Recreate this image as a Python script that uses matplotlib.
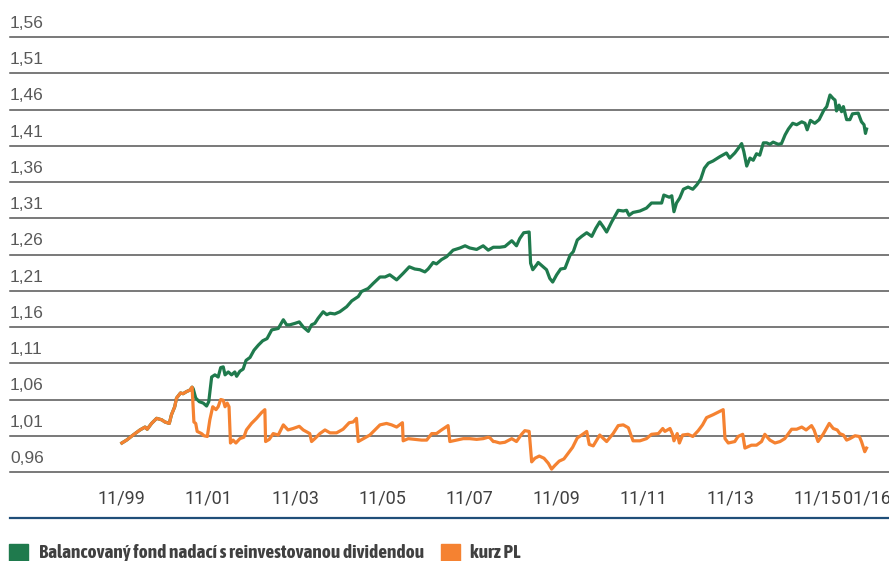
import matplotlib
matplotlib.use("Agg")
import matplotlib.pyplot as plt
from matplotlib import font_manager
from matplotlib.patches import Rectangle
from matplotlib.lines import Line2D

# months since 11/1999
fund_m = [0, 1.3, 3.1, 5.0, 6.4, 7.0, 8.2, 9.6, 11.0, 11.9, 13.1, 13.7, 14.6, 15.1, 16.2, 16.9, 17.9, 18.8, 19.4,
          19.7, 20.4, 21.4, 22.5, 23.4, 24.0, 24.8, 25.7, 26.6, 27.3, 28.0, 28.5, 29.4, 30.3, 31.2, 31.7, 32.6, 33.5,
          34.3, 35.4, 36.5, 37.7, 38.9, 40.1, 41.4, 42.3, 43.2, 44.6, 45.5, 46.4, 47.8, 49.0, 50.1, 51.5, 52.4, 53.3,
          54.2, 55.6, 56.6, 57.5, 58.8, 60.2, 62.1, 63.5, 65.3, 66.2, 68.0, 69.4, 71.3, 72.7, 74.0, 75.9, 77.7, 79.4,
          80.9, 82.3, 83.7, 84.6, 86.0, 86.9, 88.3, 89.7, 91.5, 93.4, 94.8, 96.1, 98.0, 99.8, 101.2, 102.6, 104.4,
          105.8, 107.7, 109.0, 109.9, 111.0, 112.5, 112.9, 113.5, 114.6, 115.0, 116.4, 117.3, 118.2, 119.0, 120.1,
          121.2, 122.4, 123.8, 124.7, 125.8, 127.0, 128.4, 129.8, 130.9, 132.0, 133.0, 133.9, 135.3, 137.1, 138.5,
          139.4, 140.1, 141.2, 143.1, 144.9, 146.3, 147.7, 149.1, 149.7, 151.2, 151.9, 152.5, 153.2, 154.1, 155.1,
          156.4, 157.7, 158.8, 159.9, 160.9, 162.0, 163.3, 165.2, 167.0, 167.9, 169.3, 170.2, 171.2, 171.8, 172.6,
          173.5, 174.4, 175.3, 176.2, 177.2, 178.1, 179.0, 179.9, 181.3, 182.2, 183.2, 184.1, 185.3, 186.4, 187.8,
          188.7, 189.3, 190.2, 191.4, 192.6, 193.9, 194.7, 195.6, 196.5, 197.0, 197.4, 198.1, 198.8, 199.3, 200.2,
          201.1, 201.8, 203.4, 204.3, 205.0, 205.4, 205.7]
fund_v = [1.000, 1.004, 1.011, 1.018, 1.022, 1.019, 1.027, 1.034, 1.032, 1.029, 1.027, 1.039, 1.050, 1.062, 1.069,
          1.068, 1.071, 1.073, 1.077,
          1.075, 1.062, 1.057, 1.055, 1.051, 1.057, 1.091, 1.094, 1.091, 1.104, 1.105, 1.094, 1.098, 1.094, 1.098,
          1.092, 1.099, 1.102, 1.114, 1.118, 1.128, 1.135, 1.141, 1.144, 1.156, 1.157, 1.158, 1.170, 1.163, 1.163,
          1.165, 1.167, 1.160, 1.154, 1.163, 1.165, 1.172, 1.181, 1.177, 1.179, 1.178, 1.181, 1.188, 1.196, 1.202,
          1.209, 1.213, 1.220, 1.229, 1.229, 1.232, 1.225, 1.234, 1.243, 1.240, 1.239, 1.236, 1.240, 1.249, 1.247,
          1.253, 1.257, 1.266, 1.269, 1.272, 1.269, 1.267, 1.272, 1.266, 1.270, 1.270, 1.271, 1.279, 1.272, 1.282,
          1.290, 1.291, 1.248, 1.239, 1.246, 1.249, 1.243, 1.239, 1.227, 1.222, 1.232, 1.240, 1.241, 1.259, 1.264,
          1.280, 1.285, 1.290, 1.285, 1.296, 1.305, 1.298, 1.291, 1.305, 1.321, 1.320, 1.321, 1.314, 1.318, 1.320,
          1.324, 1.331, 1.331, 1.331, 1.342, 1.339, 1.341, 1.319, 1.331, 1.338, 1.350, 1.353, 1.350, 1.356, 1.364,
          1.379, 1.386, 1.389, 1.395, 1.400, 1.393, 1.400, 1.406, 1.413, 1.402, 1.382, 1.393, 1.390, 1.399, 1.397,
          1.414, 1.414, 1.412, 1.415, 1.412, 1.413, 1.425, 1.433, 1.441, 1.439, 1.443, 1.441, 1.432, 1.445, 1.441,
          1.446, 1.459, 1.464, 1.480, 1.475, 1.473, 1.458, 1.466, 1.457, 1.464, 1.446, 1.446, 1.454, 1.455, 1.443,
          1.439, 1.427, 1.433]

pl_m = [0, 1.3, 3.1, 5.0, 6.4, 7.0, 8.2, 9.6, 11.0, 11.9, 13.1, 13.7, 14.6, 15.1, 16.2, 16.9, 17.9, 18.8, 19.4,
        19.9, 20.4, 20.8, 22.0, 22.7, 23.6, 24.3, 25.1, 26.0, 26.6, 27.3, 28.0, 28.5, 29.1, 29.6, 30.0, 30.7, 31.5,
        32.6, 33.7, 34.4, 35.8, 37.2, 38.6, 39.5, 39.7, 40.7, 41.8, 43.2, 44.6, 45.9, 47.3, 49.0, 50.1, 51.9, 52.4,
        53.3, 54.7, 56.1, 57.5, 59.3, 61.1, 62.8, 63.9, 64.8, 65.3, 66.7, 68.5, 69.9, 71.3, 73.1, 74.5, 75.9, 77.5,
        77.7, 79.1, 80.9, 82.8, 84.2, 85.6, 86.9, 88.3, 90.1, 90.6, 92.5, 94.3, 96.1, 98.0, 99.8, 101.2, 101.7,
        102.6, 103.0, 104.4, 105.8, 107.7, 109.0, 110.4, 111.3, 112.5, 113.2, 114.1, 115.3, 116.6, 117.8, 118.7,
        119.6, 120.8, 122.1, 123.3, 124.5, 125.8, 127.0, 128.4, 129.1, 130.2, 132.0, 133.9, 135.7, 137.1, 138.5,
        139.9, 141.2, 143.1, 144.9, 146.3, 148.2, 149.4, 150.0, 151.4, 152.1, 152.5, 153.4, 154.0, 154.9, 156.4,
        157.7, 159.2, 160.4, 161.5, 163.3, 166.1, 166.6, 167.5, 169.3, 170.2, 171.5, 172.1, 173.9, 175.3, 176.7,
        177.6, 179.0, 180.4, 181.8, 183.1, 185.0, 186.4, 187.8, 189.0, 190.5, 191.2, 192.3, 193.7, 195.4, 196.5,
        197.6, 198.3, 199.3, 200.2, 201.1, 202.5, 203.7, 204.3, 205.2, 205.7]
pl_v = [1.000, 1.004, 1.011, 1.018, 1.022, 1.019, 1.027, 1.034, 1.032, 1.029, 1.027, 1.039, 1.050, 1.062, 1.069,
        1.068, 1.071, 1.073, 1.077,
        1.029, 1.027, 1.016, 1.013, 1.010, 1.009, 1.032, 1.050, 1.046, 1.050, 1.060, 1.059, 1.050, 1.055, 1.050,
        1.000, 1.004, 1.000, 1.006, 1.008, 1.018, 1.027, 1.034, 1.042, 1.046, 1.002, 1.005, 1.013, 1.011, 1.025,
        1.018, 1.020, 1.023, 1.018, 1.013, 1.002, 1.006, 1.013, 1.018, 1.014, 1.014, 1.019, 1.028, 1.029, 1.034,
        1.002, 1.006, 1.011, 1.018, 1.025, 1.027, 1.025, 1.022, 1.028, 1.003, 1.006, 1.005, 1.004, 1.004, 1.013,
        1.013, 1.018, 1.024, 1.002, 1.004, 1.006, 1.006, 1.005, 1.006, 1.008, 1.007, 1.002, 1.002, 1.000, 1.001,
        1.006, 1.002, 1.012, 1.017, 1.016, 0.974, 0.979, 0.982, 0.979, 0.972, 0.964, 0.969, 0.975, 0.978, 0.986,
        0.994, 1.007, 1.011, 1.016, 0.998, 0.996, 1.011, 1.002, 1.013, 1.024, 1.025, 1.021, 1.003, 1.003, 1.006,
        1.012, 1.013, 1.020, 1.016, 1.020, 1.012, 1.003, 1.013, 1.000, 1.011, 1.012, 1.009, 1.017, 1.025, 1.035,
        1.039, 1.046, 1.006, 1.000, 1.002, 1.009, 1.012, 0.993, 0.997, 0.997, 1.002, 1.012, 1.004, 1.000, 1.002,
        1.006, 1.019, 1.019, 1.022, 1.018, 1.024, 1.018, 1.002, 1.012, 1.027, 1.020, 1.018, 1.013, 1.011, 1.004,
        1.006, 1.010, 1.009, 1.002, 0.988, 0.993]

tick_m = [0, 24, 48, 72, 96, 120, 144, 168, 192, 205.7]
tick_labels = ["11/99", "11/01", "11/03", "11/05", "11/07", "11/09", "11/11", "11/13", "11/15", "01/16"]
y_levels = [0.96, 1.01, 1.06, 1.11, 1.16, 1.21, 1.26, 1.31, 1.36, 1.41, 1.46, 1.51, 1.56]
legend_labels = ["Balancovaný fond nadací s reinvestovanou dividendou", "kurz PL"]

# a bold condensed face for the legend if there is one, else Roboto bold
legend_font = "Roboto"
for f in font_manager.fontManager.ttflist:
    if ("Narrow" in f.name or "Condensed" in f.name) and "Mono" not in f.name \
            and str(f.weight) in ("bold", "700", "semibold", "600"):
        legend_font = f.name
        break

green = "#1f7a4d"
orange = "#f58231"

fig = plt.figure(figsize=(8.89, 5.61), dpi=100)
ax = fig.add_axes([10 / 889, 1 - 472 / 561, 1 - 10 / 889, (472 - 37) / 561])

ax.plot(fund_m, fund_v, color=green, lw=2.3, zorder=3, solid_joinstyle="round")
ax.plot(pl_m, pl_v, color=orange, lw=2.3, zorder=4, solid_joinstyle="round")

ax.set_xlim(-30.9, 211.9)
ax.set_ylim(0.96, 1.56)

for v in y_levels:
    ax.axhline(v, color="#555555", lw=1.1, zorder=1, clip_on=False)
    ax.annotate(f"{v:.2f}".replace(".", ","), xy=(0, v), xycoords=ax.get_yaxis_transform(),
                xytext=(0, 6.5), textcoords="offset points", ha="left", va="baseline",
                fontsize=12.5, color="#595959", family="Liberation Sans")

ax.set_yticks([])
ax.set_xticks(tick_m)
ax.set_xticklabels(tick_labels, fontsize=13, color="#404040", family="Roboto")
ax.tick_params(axis="x", length=0, pad=12.5)
for s in ax.spines.values():
    s.set_visible(False)

# blue rule under the axis labels
fig.add_artist(Line2D([10 / 889, 1], [1 - 518 / 561] * 2, color="#1f4e79", lw=1.6))

# legend, text scaled to the width it takes in the reference
renderer = fig.canvas.get_renderer()
legend_items = [(9, 39, 383, green), (441, 470, 51, orange)]
for (sx, tx, width, col), label in zip(legend_items, legend_labels):
    fig.add_artist(Rectangle((sx / 889, 0), 18.5 / 889, 17 / 561, color=col))
    t = fig.text(tx / 889, 1 - 553 / 561, label, fontsize=13, fontweight="bold",
                 color="#404040", family=legend_font, va="center")
    w = t.get_window_extent(renderer).width
    t.set_fontsize(min(14, 13 * width / w))

fig.savefig("out.png", dpi=100)
